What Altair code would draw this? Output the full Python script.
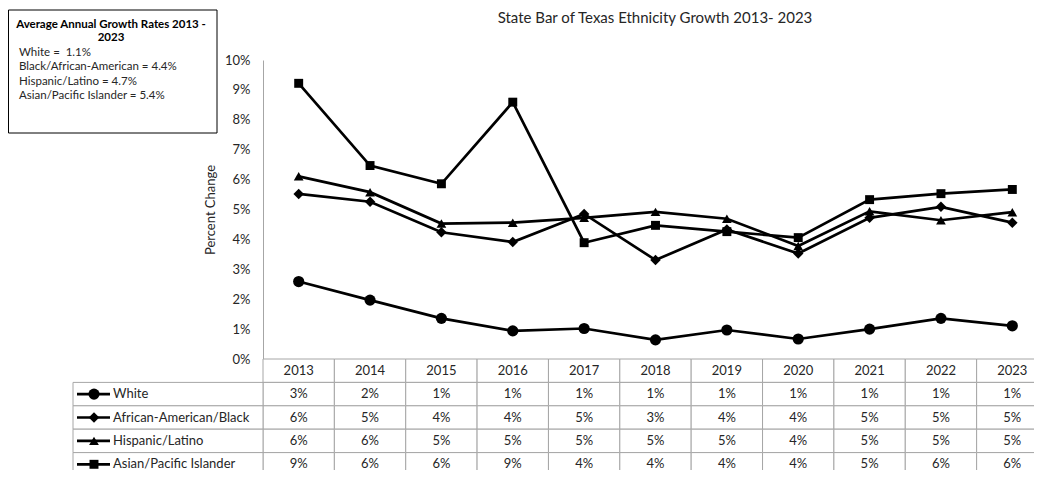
import altair as alt
import pandas as pd

years = [2013, 2014, 2015, 2016, 2017, 2018, 2019, 2020, 2021, 2022, 2023]
series = ["White", "African-American/Black", "Hispanic/Latino", "Asian/Pacific Islander"]
white = [2.59, 1.97, 1.36, 0.94, 1.02, 0.64, 0.97, 0.67, 1.00, 1.36, 1.11]
black = [5.52, 5.26, 4.24, 3.91, 4.85, 3.31, 4.33, 3.53, 4.72, 5.09, 4.56]
hispanic = [6.11, 5.58, 4.53, 4.56, 4.72, 4.92, 4.69, 3.78, 4.94, 4.64, 4.91]
asian = [9.22, 6.47, 5.86, 8.59, 3.89, 4.47, 4.26, 4.06, 5.33, 5.53, 5.67]
shapes = ["circle", "diamond", "triangle-up", "square"]
marker_sizes = [125, 80, 105, 135]

avg_title = "Average Annual Growth Rates 2013 -\n2023"
avg_names = ["White", "Black/African-American", "Hispanic/Latino", "Asian/Pacific Islander"]
avg_rates = ["1.1%", "4.4%", "4.7%", "5.4%"]
avg_seps = ["\u00a0=\u00a0\u00a0", " = ", " = ", " = "]

chart_title = "State Bar of Texas Ethnicity Growth 2013- 2023"
y_title = "Percent Change"

year_strs = [str(y) for y in years]
rows = []
for s, vals in zip(series, [white, black, hispanic, asian]):
    for y, v in zip(year_strs, vals):
        rows.append({"series": s, "year": y, "value": v / 100})
df = pd.DataFrame(rows)

# layout (pixels)
PAD_L, PAD_T = 255, 52
SVG_W, SVG_H = 1026, 462
TAB_W = 785          # full table width (right part falls outside the page, as in the reference)
PLOT_H = 299
ROW_H = 23.4
TXT = "#262626"
GRID = "#a6a6a6"

shape_scale = alt.Scale(domain=series, range=shapes)
size_scale = alt.Scale(domain=series, range=marker_sizes)
x_scale = alt.Scale(type="band", domain=year_strs, paddingInner=0, paddingOuter=0, range=[0, TAB_W])

x_pt = alt.X("year:O", scale=x_scale, axis=None, bandPosition=0.5)
x_band = alt.X("year:O", scale=x_scale, axis=None)
y_top = alt.Y(
    "value:Q",
    scale=alt.Scale(domain=[0, 0.1], range=[PLOT_H, 0]),
    axis=alt.Axis(
        format="%", values=[i / 100 for i in range(11)], grid=False, ticks=False,
        domainColor=GRID, labelPadding=13, labelFontSize=13, labelColor=TXT,
        title=y_title, titleFontSize=13, titleFontWeight="normal", titleColor=TXT,
        titlePadding=7, orient="left",
    ),
)

lines = alt.Chart(df).mark_line(color="black", strokeWidth=2.7).encode(
    x=x_pt, y=y_top, detail="series:N"
)
points = alt.Chart(df).mark_point(filled=True, color="black", opacity=1).encode(
    x=x_pt, y=y_top,
    shape=alt.Shape("series:N", scale=shape_scale, legend=None),
    size=alt.Size("series:N", scale=size_scale, legend=None),
)
plot = alt.layer(lines, points)

box_df = pd.DataFrame({
    "title": [avg_title],
    "body": ["\n".join(n + s + r for n, s, r in zip(avg_names, avg_seps, avg_rates))],
    "chart_title": [chart_title],
})
box = alt.Chart(box_df).mark_rect(fill="white", stroke="black", strokeWidth=1).encode(
    x=alt.value(-254.5), x2=alt.value(-46), y=alt.value(-50), y2=alt.value(73)
)
box_title = alt.Chart(box_df).mark_text(
    fontSize=11.5, fontWeight="bold", align="center", baseline="middle", lineBreak="\n",
    lineHeight=12.5, color="black",
).encode(text="title:N", x=alt.value(-152), y=alt.value(-35))
box_body = alt.Chart(box_df).mark_text(
    fontSize=11.5, align="left", baseline="middle", lineBreak="\n", lineHeight=14.4, color=TXT,
).encode(text="body:N", x=alt.value(-244), y=alt.value(-7))
title_mark = alt.Chart(box_df).mark_text(
    fontSize=15, align="center", baseline="middle", color=TXT
).encode(text="chart_title:N", x=alt.value(392), y=alt.value(-42))

# ---- data table ----
table_rows = ["Year"] + series
y_scale_tab = alt.Scale(type="band", domain=table_rows, paddingInner=0, paddingOuter=0,
                        range=[PLOT_H, PLOT_H + ROW_H * len(table_rows)])
y_tab = alt.Y("row:N", scale=y_scale_tab, axis=None)
y_tab_mid = alt.Y("row:N", scale=y_scale_tab, axis=None, bandPosition=0.5)

hdr_df = pd.DataFrame({"row": ["Year"] * len(years), "year": year_strs})
val_df = df.rename(columns={"series": "row"})
cells_df = pd.concat([hdr_df, val_df[["row", "year"]]])
key_df = pd.DataFrame({"row": series})

cells = alt.Chart(cells_df).mark_rect(fill="white", stroke=GRID, strokeWidth=1).encode(x=x_band, y=y_tab)
label_cells = alt.Chart(key_df).mark_rect(fill="white", stroke=GRID, strokeWidth=1).encode(
    x=alt.value(-190), x2=alt.value(0), y=y_tab
)
label_text = alt.Chart(key_df).mark_text(fontSize=13, color=TXT, align="left").encode(
    x=alt.value(-150), y=y_tab_mid, text="row:N"
)
hdr_text = alt.Chart(hdr_df).mark_text(fontSize=13, color=TXT).encode(x=x_pt, y=y_tab_mid, text="year:N")
val_text = alt.Chart(val_df).mark_text(fontSize=13, color=TXT).encode(
    x=x_pt, y=y_tab_mid, text=alt.Text("value:Q", format=".0%")
)
key_lines = alt.Chart(key_df).mark_rule(color="black", strokeWidth=2.7).encode(
    x=alt.value(-186), x2=alt.value(-153), y=y_tab_mid
)
key_pts = alt.Chart(key_df).mark_point(filled=True, color="black", opacity=1).encode(
    x=alt.value(-169), y=y_tab_mid,
    shape=alt.Shape("row:N", scale=shape_scale, legend=None),
    size=alt.Size("row:N", scale=size_scale, legend=None),
)
table = alt.layer(cells, label_cells, label_text, hdr_text, val_text, key_lines, key_pts)

chart = alt.layer(
    box, box_title, box_body, title_mark, table, plot,
).resolve_scale(y="independent").properties(
    width=SVG_W - PAD_L, height=SVG_H - PAD_T,
    padding={"left": PAD_L, "top": PAD_T, "right": 0, "bottom": 0},
    autosize=alt.AutoSizeParams(type="none"),
).configure(font="Lato").configure_view(strokeWidth=0)

chart.save("out.html", embed_options={"renderer": "svg", "actions": False})
